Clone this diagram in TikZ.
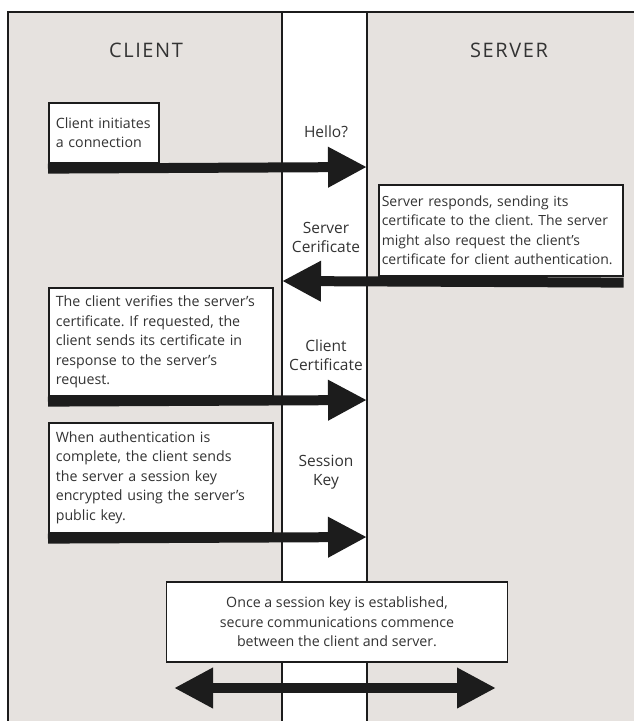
\documentclass[tikz,border=0pt]{standalone}
\usepackage{fontspec}
\setmainfont{Open Sans}
\usetikzlibrary{arrows.meta}
\definecolor{panelgray}{HTML}{E6E2DF}
\definecolor{inkdark}{HTML}{1C1C1C}
\definecolor{textdark}{HTML}{333333}
\tikzset{
  msgbox/.style={draw=inkdark, line width=1.6pt, fill=white, anchor=north west,
    align=left, inner xsep=7pt, text=textdark, font=\fontsize{14.2}{19.5}\selectfont},
  sidetitle/.style={text=textdark, font=\fontsize{20}{22}\selectfont\addfontfeatures{LetterSpace=8}},
  steplabel/.style={text=textdark, align=center, font=\fontsize{15.5}{19}\selectfont},
  flowarrow/.style={draw=inkdark, line width=10pt, -{Triangle[length=39pt 0, width=38pt 0]}},
}
\frenchspacing
\hyphenpenalty=10000
\begin{document}
\begin{tikzpicture}[x=1pt, y=-1pt]
            \def\stripleft{282}
            \def\stripright{367}
            \useasboundingbox (0,0) rectangle (633,721);
            % panels and the middle strip
            \fill[panelgray] (8,12) rectangle (645,735);
            \fill[white] (\stripleft,12) rectangle (\stripright,735);
            \draw[inkdark, line width=2pt] (\stripleft,12) -- (\stripleft,735);
            \draw[inkdark, line width=2pt] (\stripright,12) -- (\stripright,735);
            \draw[inkdark, line width=2.5pt] (8,735) -- (8,12) -- (645,12);
            \node[sidetitle] (client) at (146,50) {CLIENT};
            \node[sidetitle] (server) at (509,50) {SERVER};
            % messages
            \node[msgbox, text width=96pt, minimum height=60pt] (initbox) at (48,102)
                {Client initiates\\a connection};
            \node[steplabel] (hello) at (326,132) {Hello?};
            \coordinate (hello tip) at (\stripright,167);
            \draw[flowarrow] ([yshift=-5pt]initbox.south west) -- (hello tip);
            \node[msgbox, text width=238pt, inner xsep=3pt, minimum height=91pt,
                  font=\fontsize{14}{19.5}\selectfont] (respbox) at (378,184)
                {Server responds, sending its\\certificate to the client. The server\\might also request the client's\\certificate for client authentication.};
            \node[steplabel] (servcert) at (326,237) {Server\\Cerificate};
            \coordinate (servcert tip) at (\stripleft,281);
            \draw[flowarrow] ([yshift=-6pt]respbox.south east) -- (servcert tip);
            \node[msgbox, text width=210pt, minimum height=108pt] (verifybox) at (48,287)
                {The client verifies the server's\\certificate. If requested, the\\client sends its certificate in\\response to the server's\\request.};
            \node[steplabel] (clicert) at (326,355) {Client\\Certificate};
            \coordinate (clicert tip) at (\stripright,400);
            \draw[flowarrow] ([yshift=-5pt]verifybox.south west) -- (clicert tip);
            \node[msgbox, text width=210pt, minimum height=110pt] (keybox) at (48,422)
                {When authentication is\\complete, the client sends\\the server a session key\\encrypted using the server's\\public key.};
            \node[steplabel] (sesskey) at (326,472) {Session\\Key};
            \coordinate (sesskey tip) at (\stripright,537);
            \draw[flowarrow] ([yshift=-5pt]keybox.south west) -- (sesskey tip);
            % secure channel
            \node[msgbox, anchor=center, align=center, minimum width=341pt, minimum height=80pt] (securebox) at (337,622)
                {Once a session key is established,\\secure communications commence\\between the client and server.};
            \coordinate (secure left) at (174,688);
            \coordinate (secure right) at (496,688);
            \draw[flowarrow, {Triangle[length=39pt 0, width=38pt 0]}-{Triangle[length=39pt 0, width=38pt 0]}] (secure left) -- (secure right);
        \end{tikzpicture}
\end{document}
